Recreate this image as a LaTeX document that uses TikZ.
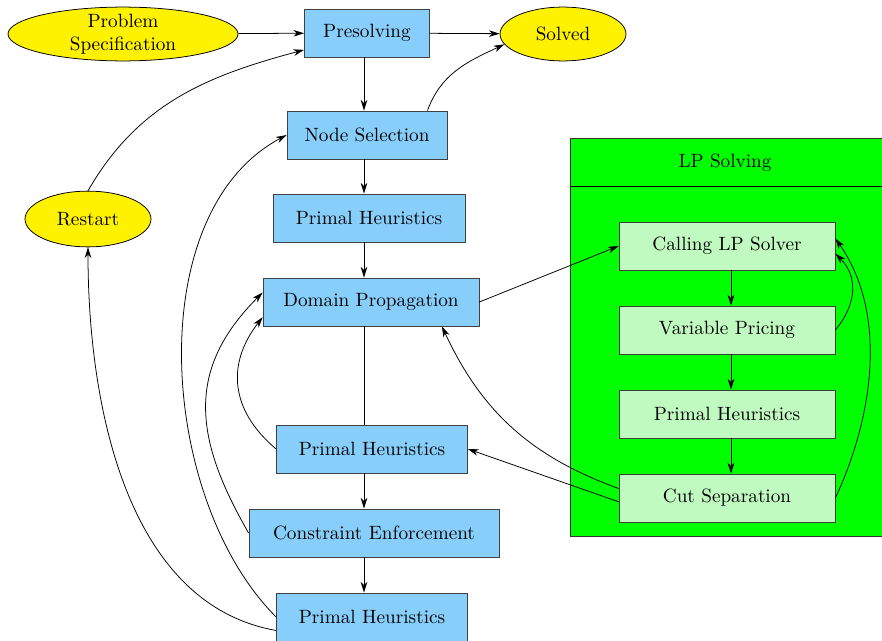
\documentclass[tikz,border=0pt]{standalone}
\usepackage{tikz}
\usepackage{xcolor}
\usetikzlibrary{shapes.geometric, arrows.meta, positioning}
\definecolor{stageblue}{RGB}{135,206,250}
\definecolor{lplight}{RGB}{192,250,192}
\tikzstyle{stage}    = [rectangle, minimum height=25pt, text centered,
                        draw=black!75, fill=stageblue]
\tikzstyle{lpstage}  = [rectangle, minimum width=112.3pt, minimum height=25pt,
                        text centered, draw=black!75, fill=lplight]
\tikzstyle{terminal} = [ellipse, inner sep=0pt, draw=black, fill=yellow, align=center]
\tikzstyle{arrow}    = [-{Stealth[length=5.5pt, width=3.4pt, inset=1.6pt]}]

\begin{document}
\begin{tikzpicture}[x=0.52pt, y=0.52pt]
    \useasboundingbox (0,0) rectangle (882,-640);

    % LP solving frame
    \draw[draw=black!80, fill=green] (570,-138) rectangle (885,-536);
    \draw (570,-186) -- (885,-186);
    \node (lptitle) at (725,-163) {LP Solving};

    % Main loop (middle column)
    \node (spec) [terminal, minimum width=119.6pt, minimum height=28pt, inner ysep=-1.5pt] at (123,-34) {Problem\\Specification};
    \node (presolve) [stage, minimum width=65pt] at (367,-33) {Presolving};
    \node (solved) [terminal, minimum width=65.5pt, minimum height=28pt] at (563,-34) {Solved};
    \node (nodesel) [stage, minimum width=83.2pt] at (367,-135) {Node Selection};
    \node (heur1) [stage, minimum width=99.8pt] at (369,-218) {Primal Heuristics};
    \node (domprop) [stage, minimum width=112.3pt] at (371,-302) {Domain Propagation};
    \node (restart) [terminal, minimum width=65.5pt, minimum height=29pt] at (88,-219) {Restart};
    \node (heur2) [stage, minimum width=99.3pt] at (372,-449) {Primal Heuristics};
    \node (enforce) [stage, minimum width=130pt] at (374,-533) {Constraint Enforcement};
    \node (heur3) [stage, minimum width=99.3pt] at (372,-617) {Primal Heuristics};

    % LP column
    \node (callsolver) [lpstage] at (727,-246) {Calling LP Solver};
    \node (pricing) [lpstage] at (727,-330) {Variable Pricing};
    \node (lpheur) [lpstage] at (727,-414) {Primal Heuristics};
    \node (separate) [lpstage] at (727,-498) {Cut Separation};

    \coordinate (maincol) at (364,0);
    \coordinate (lpcol) at (731,0);

    % Top row
    \draw[arrow] (spec) -- (presolve);
    \draw[arrow] (presolve) -- (solved);

    % Main column arrows
    \draw[arrow] (presolve.south -| maincol) -- (nodesel.north -| maincol);
    \draw[arrow] (nodesel.south -| maincol) -- (heur1.north -| maincol);
    \draw[arrow] (heur1.south -| maincol) -- (domprop.north -| maincol);
    \draw (domprop.south -| maincol) -- (heur2.north -| maincol);
    \draw[arrow] (heur2.south -| maincol) -- (enforce.north -| maincol);
    \draw[arrow] (enforce.south -| maincol) -- (heur3.north -| maincol);

    % LP column arrows
    \draw[arrow] (callsolver.south -| lpcol) -- (pricing.north -| lpcol);
    \draw[arrow] (pricing.south -| lpcol) -- (lpheur.north -| lpcol);
    \draw[arrow] (lpheur.south -| lpcol) -- (separate.north -| lpcol);

    % Loops back
    \draw[arrow] (nodesel.22) to[out=70, in=205] (solved.190);
    \draw[arrow] (restart.north) to[out=60, in=195] (presolve.195);
    \draw[arrow] (heur2.west) to[out=140, in=232, looseness=1.15] (domprop.188);
    \draw[arrow] (enforce.west) to[out=120, in=225, looseness=1.16] (domprop.175);
    \draw[arrow] (heur3.west) to[out=135, in=208, looseness=0.88] (nodesel.west);
    \draw[arrow] (heur3.188) to[out=170, in=270, looseness=0.92] (restart.south);

    % Into and out of LP solving
    \draw[arrow] (domprop.east) -- (callsolver.west);
    \draw[arrow] (separate.175) to[out=160, in=295] (domprop.341);
    \draw[arrow] (separate.182) -- (heur2.east);
    \draw[arrow] (pricing.east) to[out=50, in=315, looseness=1.1] (callsolver.356);
    \draw[arrow] (separate.east) to[out=65, in=305, looseness=0.9] (callsolver.4);
\end{tikzpicture}
\end{document}
